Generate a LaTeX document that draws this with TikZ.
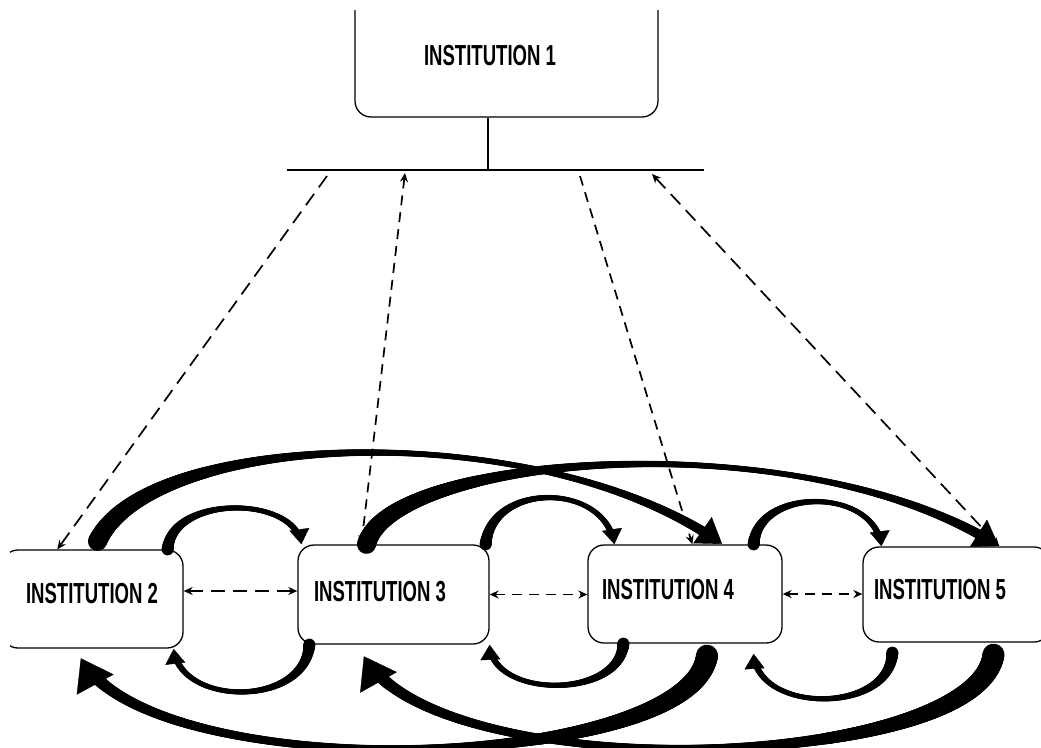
\documentclass[tikz,border=0pt]{standalone}
\usepackage{xcolor}
\usepackage{fontspec}
\newfontfamily\instfont{Liberation Sans}[FakeStretch=0.64]
\usetikzlibrary{arrows.meta,decorations.markings}

\tikzset{
  inst/.style={draw=black, line width=1.3pt, rounded corners=16pt},
  instlabel/.style={inner sep=0pt, font=\instfont\bfseries\fontsize{29}{30}\selectfont},
  longdash/.style={line width=1.7pt, dash pattern=on 14pt off 8pt},
  shortdash/.style={line width=1.7pt, dash pattern=on 10pt off 7pt},
  dtip/.style={-{Stealth[length=9pt,width=8pt]}},
  dtips/.style={{Stealth[length=9pt,width=8pt]}-{Stealth[length=9pt,width=8pt]}},
  % tapered stroke: width at tail, middle, before head; head length, head width
  flow/.style n args={5}{
    postaction={decorate,decoration={markings,
      mark=between positions 0 and 1 step 0.8pt with {%
        \pgfmathsetmacro\flowd{\pgfkeysvalueof{/pgf/decoration/mark info/distance from start}}%
        \pgfmathsetmacro\flowt{\flowd/\pgfdecoratedpathlength}%
        \pgfmathsetmacro\flowr{0.5*(#2+(#1-#2)*(1-\flowt)^3+(#3-#2)*\flowt^3)}%
        \pgfmathparse{\flowd<\pgfdecoratedpathlength-#4+3 ? 1 : 0}%
        \ifdim\pgfmathresult pt>0.5pt \fill[black] (0,0) circle (\flowr pt);\fi}}},
    postaction={decorate,decoration={markings,
      mark=at position 0.999 with {\arrow{Triangle[length=#4pt,width=#5pt]}}}}},
  nbr/.style={flow={12}{4}{7}{15}{20}},
  wide/.style={flow={19}{3}{11}{24}{32}},
  widelow/.style={flow={22}{5}{13}{30}{42}},
}

\begin{document}
\begin{tikzpicture}[x=1pt,y=-1pt]
\useasboundingbox (0,0) rectangle (1041,747);
\clip (10,10) rectangle (1041,747);

% institutions
\node[inst, minimum width=303pt, minimum height=137pt] (i1) at (506.5,48.5) {};
\node[inst, minimum width=181pt, minimum height=98pt] (i2) at (92.5,599) {};
\node[inst, minimum width=191pt, minimum height=99pt] (i3) at (393.5,594.5) {};
\node[inst, minimum width=194pt, minimum height=98pt] (i4) at (685,594) {};
\node[inst, minimum width=187pt, minimum height=95pt] (i5) at (956.5,594.5) {};

\node[instlabel] (l1) at (490,56) {INSTITUTION 1};
\node[instlabel] (l2) at (92,594) {INSTITUTION 2};
\node[instlabel] (l3) at (380,592) {INSTITUTION 3};
\node[instlabel] (l4) at (668,590) {INSTITUTION 4};
\node[instlabel] (l5) at (940,590) {INSTITUTION 5};

% bus below institution 1
\coordinate (busL) at (287,170);
\coordinate (busR) at (704,170);
\coordinate (bus) at (488,170);
\draw[line width=1.5pt] (busL) -- (busR);
\draw[line width=1.3pt] (bus |- i1.south) -- (bus);

\coordinate (b2) at (327,176);
\coordinate (b3) at (405,173);
\coordinate (b4) at (580,176);
\coordinate (b5) at (652,174);
\draw[longdash, dtip] (b2) -- ([xshift=56pt]i2.north west);
\draw[shortdash, dtips] (b3) -- ([xshift=64pt]i3.north west);
\draw[shortdash, dtip] (b4) -- ([xshift=105pt]i4.north west);
\draw[longdash, dtips] (b5) -- ([xshift=137pt]i5.north west);

% between neighbours
\draw[longdash, dtips] ([yshift=8pt]i2.east) -- ([yshift=8pt]i2.east -| i3.west);
\draw[shortdash, dtips] (i3.east) -- (i3.east -| i4.west);
\draw[shortdash, dtips] (i4.east) -- (i4.east -| i5.west);

% curved arrows, neighbours
\path[nbr] ([xshift=-16pt]i2.north east) .. controls (172,495) and (295,495) .. ([xshift=4pt]i3.north west);
\path[nbr] ([xshift=-4pt]i3.north east) .. controls (492,482) and (605,482) .. ([xshift=27pt]i4.north west);
\path[nbr] ([xshift=-29pt]i4.north east) .. controls (758,487) and (875,487) .. ([xshift=19pt]i5.north west);
\path[nbr] ([xshift=12pt]i3.south west) .. controls (305,707) and (180,707) .. ([xshift=-10pt]i2.south east);
\path[nbr] ([xshift=36pt]i4.south west) .. controls (620,699) and (492,699) .. (i3.south east);
\path[nbr] ([xshift=30pt,yshift=-10pt]i5.south west) .. controls (890,714) and (757,714) .. ([xshift=-29pt,yshift=-10pt]i4.south east);

% curved arrows, one apart
\path[wide] ([xshift=5pt,yshift=8pt]i2.north) .. controls (150,430) and (540,415) .. ([xshift=-60pt]i4.north east);
\path[wide] ([xshift=-27pt]i3.north) .. controls (390,455) and (800,420) .. ([xshift=137pt]i5.north west);
\path[widelow] ([xshift=22pt,yshift=-12pt]i4.south) .. controls (690,772) and (150,788) .. ([xshift=-12pt,yshift=-9pt]i2.south);
\path[widelow] ([xshift=37pt,yshift=-12pt]i5.south) .. controls (976,772) and (436,788) .. ([xshift=-30pt,yshift=-11pt]i3.south);
\end{tikzpicture}
\end{document}
